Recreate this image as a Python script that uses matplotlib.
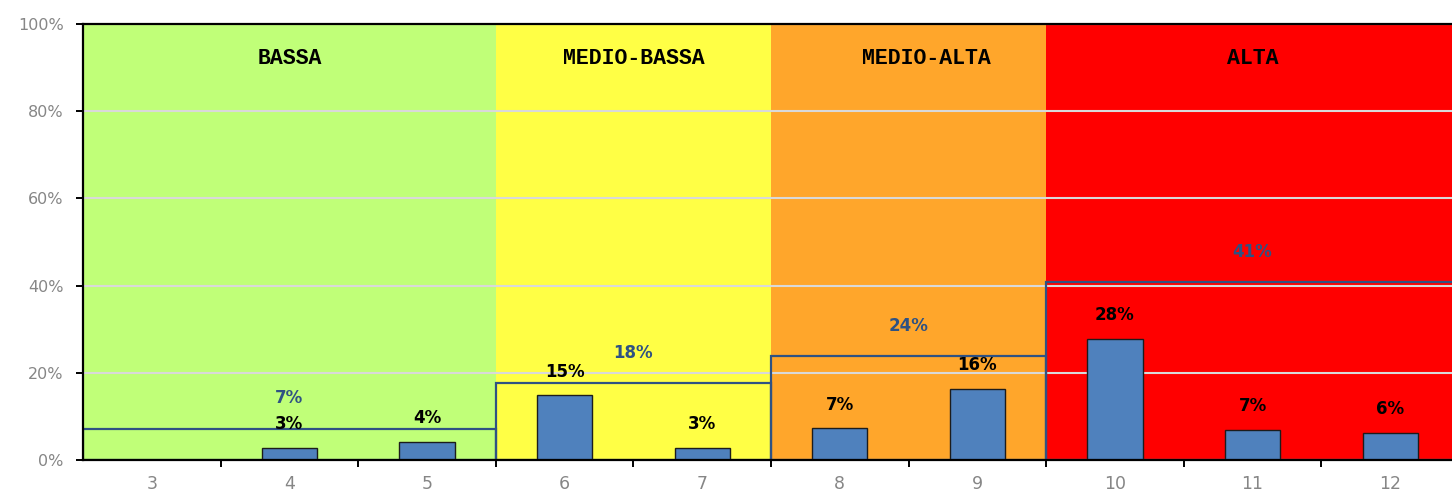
"""Risk-band distribution chart: share per score with band totals."""

import matplotlib

matplotlib.use("Agg")
import matplotlib.pyplot as plt
from matplotlib.ticker import FixedLocator, FuncFormatter

# --- data -----------------------------------------------------------------
scores = [3, 4, 5, 6, 7, 8, 9, 10, 11, 12]
shares = [0.0, 2.8, 4.2, 14.8, 2.75, 7.3, 16.3, 27.75, 6.95, 6.26]

band_names = ["BASSA", "MEDIO-BASSA", "MEDIO-ALTA", "ALTA"]
band_first = [0, 3, 5, 7]      # index of first score in band
band_count = [3, 2, 2, 3]      # number of scores in band
band_totals = [7.2, 17.6, 23.8, 40.8]
band_colors = ["#c0ff78", "#ffff45", "#ffa62b", "#ff0000"]

BAR_COLOR = "#4f81bd"
BAND_LINE = "#2f5283"
TICK_GREY = "#868686"

fig = plt.figure(figsize=(14.52, 4.93), dpi=100)
# the original crops the right edge of the plot area slightly
ax = fig.add_axes([83 / 1452, 33 / 493, 1376 / 1452, 436 / 493])

x = list(range(len(scores)))

# background bands
for first, count, color in zip(band_first, band_count, band_colors):
    ax.axvspan(first - 0.5, first + count - 0.5, color=color, lw=0, zorder=0)

ax.set_axisbelow(True)
ax.yaxis.grid(True, color="#d9d9d9", lw=1.5)

ax.bar(x, shares, width=0.4, color=BAR_COLOR, edgecolor="#1c1c1c", lw=1.0, zorder=2)
for xi, v in zip(x, shares):
    if v <= 0:
        continue
    ax.annotate(f"{v:.0f}%", (xi, v), xytext=(0, 17), textcoords="offset points",
                ha="center", va="center", fontsize=12, fontweight="bold",
                color="black", zorder=5)

# band total outlines
ax.bar([f - 0.5 for f in band_first], band_totals, width=band_count, align="edge",
       fill=False, edgecolor=BAND_LINE, lw=1.6, zorder=3)
for first, count, total in zip(band_first, band_count, band_totals):
    cx = first + (count - 1) / 2
    ax.annotate(f"{total:.0f}%", (cx, total), xytext=(0, 22), textcoords="offset points",
                ha="center", va="center", fontsize=12, fontweight="bold",
                color=BAND_LINE, zorder=5)

# band names
name_x = [1.0, 3.5, 5.63, 8.0]
for nx, name in zip(name_x, band_names):
    ax.text(nx, 92.2, name, ha="center", va="center", fontsize=15.5,
            fontweight="bold", family="Liberation Mono", color="black")

ax.set_xlim(-0.5, len(scores) - 0.5)
ax.set_ylim(0, 100)

ax.set_yticks([0, 20, 40, 60, 80, 100])
ax.yaxis.set_major_formatter(FuncFormatter(lambda v, _: f"{v:.0f}%"))
ax.tick_params(axis="y", direction="out", length=5, width=1.4, color="black",
               labelcolor=TICK_GREY, labelsize=11.5, pad=9)

ax.set_xticks(x, [str(s) for s in scores])
ax.xaxis.set_minor_locator(FixedLocator([i + 0.5 for i in x[:-1]]))
ax.tick_params(axis="x", which="major", length=0, labelcolor=TICK_GREY,
               labelsize=12.5, pad=11)
ax.tick_params(axis="x", which="minor", direction="out", length=5, width=1.4,
               color="black")

for side in ("left", "top", "bottom"):
    ax.spines[side].set_linewidth(1.6)
    ax.spines[side].set_color("black")
    ax.spines[side].set_zorder(4)
ax.spines["right"].set_visible(False)

fig.savefig("out.png", dpi=100)
